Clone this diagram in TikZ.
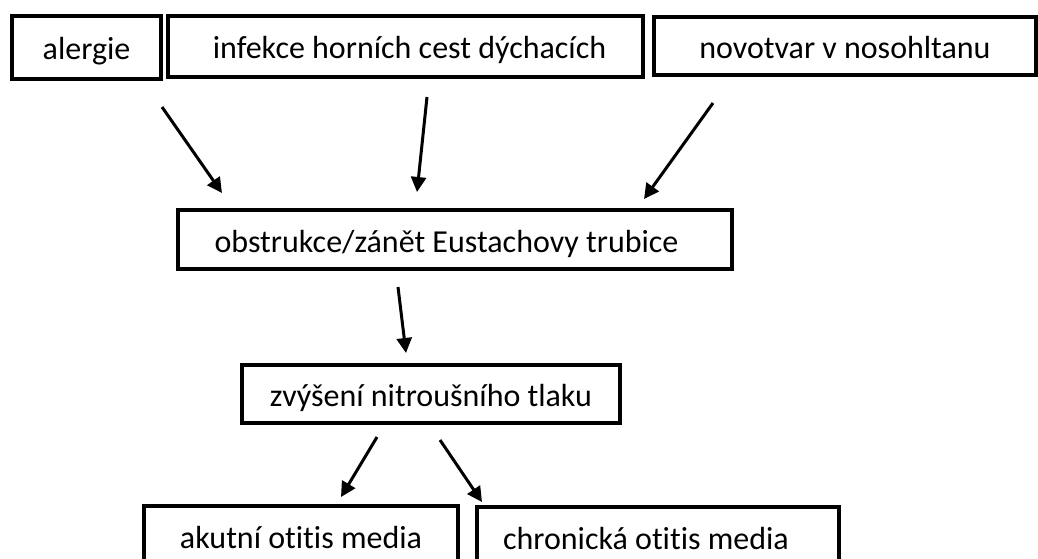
\documentclass[tikz,border=0pt]{standalone}
\usepackage{fontspec}
\setmainfont{Carlito}[Ligatures=NoCommon]
\usetikzlibrary{arrows.meta}
\begin{document}
\begin{tikzpicture}[x=1pt,y=-1pt,
  box/.style={draw=black,line width=3.5pt,inner sep=0pt,text height=25pt,text depth=0pt,font=\fontsize{32}{38}\selectfont},
  arr/.style={line width=3pt,-{Triangle[length=15pt,width=15pt]}}]
\useasboundingbox (0,0) rectangle (1038,559);
\clip (0,0) rectangle (1038,559);
\node[box,minimum width=149pt,minimum height=63pt] (alergie) at (86.5,47.5) {alergie};
\node[box,minimum width=475pt,minimum height=61pt] (infekce) at (405.5,46.5) {\hspace*{8pt}infekce horních cest dýchacích};
\node[box,minimum width=382pt,minimum height=58pt] (novotvar) at (845,46) {novotvar v nosohltanu};
\node[box,minimum width=554pt,minimum height=59pt] (obstr) at (455,239.5) {obstrukce/zánět Eustachovy trubice\hspace*{17pt}};
\node[box,minimum width=378pt,minimum height=58pt] (zvys) at (431,394) {zvýšení nitroušního tlaku};
\node[box,minimum width=314pt,minimum height=60pt] (akut) at (301,536) {akutní otitis media};
\node[box,minimum width=362pt,minimum height=60pt] (chron) at (658,537) {chronická otitis media\hspace*{24pt}};
\coordinate (a1s) at (162,107); \coordinate (a1e) at (222,193);
\coordinate (a2s) at (427,97);  \coordinate (a2e) at (417,192);
\coordinate (a3s) at (713,103); \coordinate (a3e) at (644,199);
\coordinate (a4s) at (398,287); \coordinate (a4e) at (406,353);
\coordinate (a5s) at (377,437); \coordinate (a5e) at (341,497);
\coordinate (a6s) at (440,440); \coordinate (a6e) at (482,502);
\draw[arr] (a1s) -- (a1e);
\draw[arr] (a2s) -- (a2e);
\draw[arr] (a3s) -- (a3e);
\draw[arr] (a4s) -- (a4e);
\draw[arr] (a5s) -- (a5e);
\draw[arr] (a6s) -- (a6e);
\end{tikzpicture}
\end{document}
